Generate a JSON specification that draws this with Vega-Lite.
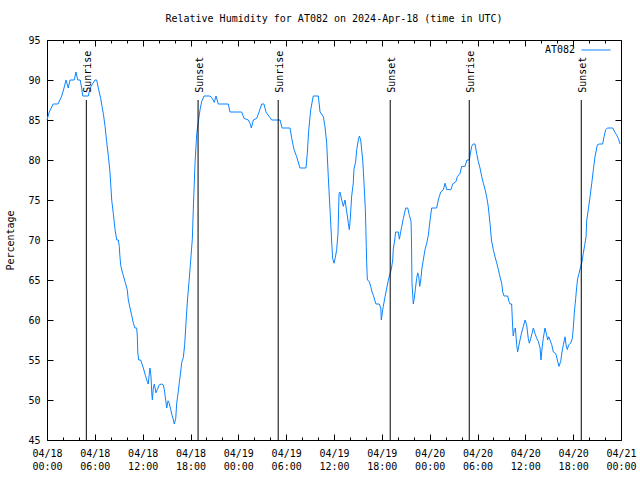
{
  "$schema": "https://vega.github.io/schema/vega-lite/v6.json",
  "autosize": {"type": "none"},
  "width": 574,
  "height": 400,
  "padding": {"left": 47, "top": 40, "right": 19, "bottom": 40},
  "background": "white",
  "title": {"text": "Relative Humidity for AT082 on 2024-Apr-18 (time in UTC)", "font": "DejaVu Sans Mono", "fontSize": 10, "fontWeight": "normal", "color": "black", "offset": 11},
  "config": {
    "view": {"stroke": "black", "strokeWidth": 1},
    "axis": {"domain": false, "grid": false, "labelFont": "DejaVu Sans Mono", "labelFontSize": 10, "labelColor": "black", "tickColor": "black", "titleFont": "DejaVu Sans Mono", "titleFontSize": 10, "titleFontWeight": "normal", "titleColor": "black"},
    "legend": {"labelFont": "DejaVu Sans Mono", "labelFontSize": 10, "labelColor": "black"}
  },
  "datasets": {
    "rh": [
      {"t":"2024-04-18T00:00Z","rh":85},{"t":"2024-04-18T00:17Z","rh":86},{"t":"2024-04-18T00:47Z","rh":87},{"t":"2024-04-18T01:23Z","rh":87},{"t":"2024-04-18T01:51Z","rh":88},{"t":"2024-04-18T02:08Z","rh":89},{"t":"2024-04-18T02:23Z","rh":90},{"t":"2024-04-18T02:40Z","rh":89},{"t":"2024-04-18T02:53Z","rh":90},{"t":"2024-04-18T03:25Z","rh":90},{"t":"2024-04-18T03:38Z","rh":91},{"t":"2024-04-18T03:51Z","rh":90},{"t":"2024-04-18T04:10Z","rh":90},{"t":"2024-04-18T04:21Z","rh":89},{"t":"2024-04-18T04:29Z","rh":88},{"t":"2024-04-18T05:11Z","rh":88},{"t":"2024-04-18T05:24Z","rh":89},{"t":"2024-04-18T06:01Z","rh":90},{"t":"2024-04-18T06:14Z","rh":90},{"t":"2024-04-18T06:26Z","rh":89},{"t":"2024-04-18T06:44Z","rh":87.7},{"t":"2024-04-18T06:54Z","rh":86.7},{"t":"2024-04-18T07:04Z","rh":85.8},{"t":"2024-04-18T07:17Z","rh":84.2},{"t":"2024-04-18T07:29Z","rh":82.3},{"t":"2024-04-18T07:41Z","rh":80.6},{"t":"2024-04-18T07:54Z","rh":78.5},{"t":"2024-04-18T08:07Z","rh":75},{"t":"2024-04-18T08:19Z","rh":73.3},{"t":"2024-04-18T08:32Z","rh":71.3},{"t":"2024-04-18T08:45Z","rh":70},{"t":"2024-04-18T08:57Z","rh":70},{"t":"2024-04-18T09:04Z","rh":69.2},{"t":"2024-04-18T09:09Z","rh":67.9},{"t":"2024-04-18T09:15Z","rh":66.8},{"t":"2024-04-18T09:30Z","rh":65.8},{"t":"2024-04-18T09:47Z","rh":64.8},{"t":"2024-04-18T10:04Z","rh":63.8},{"t":"2024-04-18T10:12Z","rh":62.5},{"t":"2024-04-18T10:25Z","rh":61.5},{"t":"2024-04-18T10:37Z","rh":60.6},{"t":"2024-04-18T10:50Z","rh":59.6},{"t":"2024-04-18T11:02Z","rh":59},{"t":"2024-04-18T11:15Z","rh":59},{"t":"2024-04-18T11:20Z","rh":57.9},{"t":"2024-04-18T11:23Z","rh":56},{"t":"2024-04-18T11:30Z","rh":55},{"t":"2024-04-18T11:45Z","rh":55},{"t":"2024-04-18T12:05Z","rh":54},{"t":"2024-04-18T12:20Z","rh":53.1},{"t":"2024-04-18T12:35Z","rh":52.3},{"t":"2024-04-18T12:42Z","rh":52},{"t":"2024-04-18T12:50Z","rh":53.3},{"t":"2024-04-18T12:55Z","rh":54},{"t":"2024-04-18T13:03Z","rh":52.9},{"t":"2024-04-18T13:08Z","rh":51},{"t":"2024-04-18T13:13Z","rh":50},{"t":"2024-04-18T13:20Z","rh":51.5},{"t":"2024-04-18T13:28Z","rh":52},{"t":"2024-04-18T13:40Z","rh":50.9},{"t":"2024-04-18T13:50Z","rh":51.3},{"t":"2024-04-18T14:05Z","rh":51.9},{"t":"2024-04-18T14:23Z","rh":52},{"t":"2024-04-18T14:35Z","rh":51.9},{"t":"2024-04-18T14:43Z","rh":51.3},{"t":"2024-04-18T14:50Z","rh":50.4},{"t":"2024-04-18T15:01Z","rh":49},{"t":"2024-04-18T15:11Z","rh":49.9},{"t":"2024-04-18T15:20Z","rh":49.6},{"t":"2024-04-18T15:31Z","rh":48.8},{"t":"2024-04-18T15:41Z","rh":48.1},{"t":"2024-04-18T15:51Z","rh":47.5},{"t":"2024-04-18T15:58Z","rh":47},{"t":"2024-04-18T16:09Z","rh":47.7},{"t":"2024-04-18T16:16Z","rh":49.6},{"t":"2024-04-18T16:26Z","rh":50.8},{"t":"2024-04-18T16:36Z","rh":52.2},{"t":"2024-04-18T16:46Z","rh":53.5},{"t":"2024-04-18T16:54Z","rh":54.7},{"t":"2024-04-18T17:06Z","rh":55.3},{"t":"2024-04-18T17:16Z","rh":56.9},{"t":"2024-04-18T17:24Z","rh":59},{"t":"2024-04-18T17:31Z","rh":61},{"t":"2024-04-18T17:39Z","rh":62.9},{"t":"2024-04-18T17:49Z","rh":64.8},{"t":"2024-04-18T17:56Z","rh":66.3},{"t":"2024-04-18T18:04Z","rh":68},{"t":"2024-04-18T18:14Z","rh":70.2},{"t":"2024-04-18T18:21Z","rh":73.8},{"t":"2024-04-18T18:34Z","rh":79.6},{"t":"2024-04-18T18:47Z","rh":83.3},{"t":"2024-04-18T18:59Z","rh":84.8},{"t":"2024-04-18T19:12Z","rh":86.3},{"t":"2024-04-18T19:24Z","rh":87.3},{"t":"2024-04-18T19:42Z","rh":88},{"t":"2024-04-18T20:27Z","rh":88},{"t":"2024-04-18T20:44Z","rh":87.7},{"t":"2024-04-18T20:59Z","rh":87.2},{"t":"2024-04-18T21:12Z","rh":88},{"t":"2024-04-18T21:29Z","rh":87},{"t":"2024-04-18T22:45Z","rh":87},{"t":"2024-04-18T22:57Z","rh":86},
      {"t":"2024-04-19T00:25Z","rh":86},{"t":"2024-04-19T00:43Z","rh":85.2},{"t":"2024-04-19T01:15Z","rh":85},{"t":"2024-04-19T01:28Z","rh":84.6},{"t":"2024-04-19T01:38Z","rh":84},{"t":"2024-04-19T01:53Z","rh":85},{"t":"2024-04-19T02:18Z","rh":85.2},{"t":"2024-04-19T02:36Z","rh":86},{"t":"2024-04-19T02:56Z","rh":87},{"t":"2024-04-19T03:13Z","rh":87},{"t":"2024-04-19T03:28Z","rh":86},{"t":"2024-04-19T03:58Z","rh":85.3},{"t":"2024-04-19T04:11Z","rh":85},{"t":"2024-04-19T05:14Z","rh":85},{"t":"2024-04-19T05:29Z","rh":84},{"t":"2024-04-19T06:29Z","rh":84},{"t":"2024-04-19T06:42Z","rh":82.7},{"t":"2024-04-19T06:59Z","rh":81.3},{"t":"2024-04-19T07:19Z","rh":80.4},{"t":"2024-04-19T07:44Z","rh":79},{"t":"2024-04-19T08:29Z","rh":79},{"t":"2024-04-19T08:39Z","rh":80.8},{"t":"2024-04-19T08:50Z","rh":83.8},{"t":"2024-04-19T09:05Z","rh":86.3},{"t":"2024-04-19T09:24Z","rh":88},{"t":"2024-04-19T10:02Z","rh":88},{"t":"2024-04-19T10:15Z","rh":86},{"t":"2024-04-19T10:40Z","rh":85.4},{"t":"2024-04-19T10:52Z","rh":84.2},{"t":"2024-04-19T11:05Z","rh":82.1},{"t":"2024-04-19T11:17Z","rh":77.9},{"t":"2024-04-19T11:30Z","rh":73.8},{"t":"2024-04-19T11:43Z","rh":69.6},{"t":"2024-04-19T11:50Z","rh":67.7},{"t":"2024-04-19T12:00Z","rh":67.1},{"t":"2024-04-19T12:10Z","rh":67.8},{"t":"2024-04-19T12:20Z","rh":68.8},{"t":"2024-04-19T12:30Z","rh":70.8},{"t":"2024-04-19T12:38Z","rh":75.8},{"t":"2024-04-19T12:45Z","rh":76},{"t":"2024-04-19T12:58Z","rh":75},{"t":"2024-04-19T13:10Z","rh":74.2},{"t":"2024-04-19T13:23Z","rh":75},{"t":"2024-04-19T13:36Z","rh":73.5},{"t":"2024-04-19T13:48Z","rh":72.1},{"t":"2024-04-19T13:55Z","rh":71.3},{"t":"2024-04-19T14:00Z","rh":72.1},{"t":"2024-04-19T14:13Z","rh":75.5},{"t":"2024-04-19T14:25Z","rh":77.1},{"t":"2024-04-19T14:30Z","rh":78.8},{"t":"2024-04-19T14:43Z","rh":79.8},{"t":"2024-04-19T14:51Z","rh":81.3},{"t":"2024-04-19T15:03Z","rh":82.5},{"t":"2024-04-19T15:11Z","rh":83},{"t":"2024-04-19T15:21Z","rh":82.5},{"t":"2024-04-19T15:36Z","rh":80},{"t":"2024-04-19T15:46Z","rh":77.1},{"t":"2024-04-19T15:56Z","rh":73.8},{"t":"2024-04-19T16:00Z","rh":71.3},{"t":"2024-04-19T16:03Z","rh":69.2},{"t":"2024-04-19T16:06Z","rh":67.1},{"t":"2024-04-19T16:11Z","rh":65},{"t":"2024-04-19T16:26Z","rh":64.8},{"t":"2024-04-19T16:36Z","rh":64.2},{"t":"2024-04-19T16:46Z","rh":63.5},{"t":"2024-04-19T16:56Z","rh":63.1},{"t":"2024-04-19T17:06Z","rh":62.5},{"t":"2024-04-19T17:16Z","rh":62},{"t":"2024-04-19T17:41Z","rh":62},{"t":"2024-04-19T17:52Z","rh":61.5},{"t":"2024-04-19T17:56Z","rh":60},{"t":"2024-04-19T18:04Z","rh":61},{"t":"2024-04-19T18:11Z","rh":61.7},{"t":"2024-04-19T18:24Z","rh":62.9},{"t":"2024-04-19T18:37Z","rh":64},{"t":"2024-04-19T18:49Z","rh":65},{"t":"2024-04-19T19:02Z","rh":65.8},{"t":"2024-04-19T19:11Z","rh":66.3},{"t":"2024-04-19T19:22Z","rh":67.5},{"t":"2024-04-19T19:26Z","rh":68.8},{"t":"2024-04-19T19:37Z","rh":70},{"t":"2024-04-19T19:44Z","rh":71},{"t":"2024-04-19T19:52Z","rh":71},{"t":"2024-04-19T20:04Z","rh":71},{"t":"2024-04-19T20:12Z","rh":70.1},{"t":"2024-04-19T20:22Z","rh":71},{"t":"2024-04-19T20:30Z","rh":71.7},{"t":"2024-04-19T20:42Z","rh":72.7},{"t":"2024-04-19T21:00Z","rh":74},{"t":"2024-04-19T21:15Z","rh":74},{"t":"2024-04-19T21:27Z","rh":73.1},{"t":"2024-04-19T21:40Z","rh":72.3},{"t":"2024-04-19T21:43Z","rh":70},{"t":"2024-04-19T21:47Z","rh":64.6},{"t":"2024-04-19T21:57Z","rh":62},{"t":"2024-04-19T22:04Z","rh":62.7},{"t":"2024-04-19T22:12Z","rh":63.8},{"t":"2024-04-19T22:22Z","rh":65.2},{"t":"2024-04-19T22:30Z","rh":65.9},{"t":"2024-04-19T22:38Z","rh":65.4},{"t":"2024-04-19T22:45Z","rh":64.2},{"t":"2024-04-19T22:53Z","rh":65},{"t":"2024-04-19T23:02Z","rh":66.5},{"t":"2024-04-19T23:12Z","rh":67.5},{"t":"2024-04-19T23:25Z","rh":68.8},{"t":"2024-04-19T23:38Z","rh":69.6},{"t":"2024-04-19T23:50Z","rh":70.6},
      {"t":"2024-04-20T00:03Z","rh":72.5},{"t":"2024-04-20T00:15Z","rh":74},{"t":"2024-04-20T00:53Z","rh":74},{"t":"2024-04-20T01:05Z","rh":75},{"t":"2024-04-20T01:23Z","rh":76},{"t":"2024-04-20T01:43Z","rh":76.3},{"t":"2024-04-20T01:56Z","rh":77.1},{"t":"2024-04-20T02:08Z","rh":76.3},{"t":"2024-04-20T02:41Z","rh":76.3},{"t":"2024-04-20T02:53Z","rh":77},{"t":"2024-04-20T03:18Z","rh":77.3},{"t":"2024-04-20T03:28Z","rh":77.9},{"t":"2024-04-20T03:48Z","rh":78.3},{"t":"2024-04-20T04:01Z","rh":79.2},{"t":"2024-04-20T04:26Z","rh":79.2},{"t":"2024-04-20T04:41Z","rh":80},{"t":"2024-04-20T04:58Z","rh":80},{"t":"2024-04-20T05:16Z","rh":81.7},{"t":"2024-04-20T05:28Z","rh":82},{"t":"2024-04-20T05:41Z","rh":82},{"t":"2024-04-20T05:54Z","rh":80.8},{"t":"2024-04-20T06:06Z","rh":79.8},{"t":"2024-04-20T06:19Z","rh":79},{"t":"2024-04-20T06:32Z","rh":77.9},{"t":"2024-04-20T06:44Z","rh":77.1},{"t":"2024-04-20T06:57Z","rh":76.3},{"t":"2024-04-20T07:09Z","rh":75.4},{"t":"2024-04-20T07:21Z","rh":74.2},{"t":"2024-04-20T07:34Z","rh":72.1},{"t":"2024-04-20T07:45Z","rh":70},{"t":"2024-04-20T07:59Z","rh":68.8},{"t":"2024-04-20T08:12Z","rh":67.9},{"t":"2024-04-20T08:25Z","rh":67.1},{"t":"2024-04-20T08:37Z","rh":66.3},{"t":"2024-04-20T08:49Z","rh":65.4},{"t":"2024-04-20T09:02Z","rh":64.6},{"t":"2024-04-20T09:10Z","rh":63.5},{"t":"2024-04-20T09:20Z","rh":63},{"t":"2024-04-20T09:47Z","rh":63},{"t":"2024-04-20T09:57Z","rh":62.3},{"t":"2024-04-20T10:05Z","rh":62},{"t":"2024-04-20T10:17Z","rh":62},{"t":"2024-04-20T10:25Z","rh":59},{"t":"2024-04-20T10:29Z","rh":58},{"t":"2024-04-20T10:37Z","rh":58.8},{"t":"2024-04-20T10:45Z","rh":59},{"t":"2024-04-20T10:55Z","rh":56.9},{"t":"2024-04-20T11:02Z","rh":56},{"t":"2024-04-20T11:10Z","rh":56.7},{"t":"2024-04-20T11:20Z","rh":57.5},{"t":"2024-04-20T11:33Z","rh":58.5},{"t":"2024-04-20T11:45Z","rh":59.2},{"t":"2024-04-20T11:58Z","rh":60},{"t":"2024-04-20T12:10Z","rh":59.4},{"t":"2024-04-20T12:22Z","rh":57.7},{"t":"2024-04-20T12:30Z","rh":57.1},{"t":"2024-04-20T12:41Z","rh":57.7},{"t":"2024-04-20T12:50Z","rh":58.3},{"t":"2024-04-20T13:00Z","rh":59},{"t":"2024-04-20T13:13Z","rh":58.3},{"t":"2024-04-20T13:26Z","rh":57.7},{"t":"2024-04-20T13:38Z","rh":57.3},{"t":"2024-04-20T13:51Z","rh":56.5},{"t":"2024-04-20T13:58Z","rh":55},{"t":"2024-04-20T14:06Z","rh":56.5},{"t":"2024-04-20T14:15Z","rh":57.7},{"t":"2024-04-20T14:28Z","rh":59},{"t":"2024-04-20T14:41Z","rh":58.1},{"t":"2024-04-20T14:48Z","rh":57.5},{"t":"2024-04-20T14:56Z","rh":57.9},{"t":"2024-04-20T15:06Z","rh":57.5},{"t":"2024-04-20T15:19Z","rh":56.9},{"t":"2024-04-20T15:31Z","rh":56},{"t":"2024-04-20T15:49Z","rh":55.8},{"t":"2024-04-20T16:01Z","rh":55},{"t":"2024-04-20T16:13Z","rh":54.2},{"t":"2024-04-20T16:26Z","rh":54.8},{"t":"2024-04-20T16:36Z","rh":56},{"t":"2024-04-20T16:46Z","rh":56.9},{"t":"2024-04-20T16:59Z","rh":57.9},{"t":"2024-04-20T17:06Z","rh":56.9},{"t":"2024-04-20T17:16Z","rh":56.3},{"t":"2024-04-20T17:26Z","rh":56.9},{"t":"2024-04-20T17:41Z","rh":57.1},{"t":"2024-04-20T17:54Z","rh":57.7},{"t":"2024-04-20T18:01Z","rh":59},{"t":"2024-04-20T18:09Z","rh":61},{"t":"2024-04-20T18:19Z","rh":62.7},{"t":"2024-04-20T18:27Z","rh":64.2},{"t":"2024-04-20T18:34Z","rh":65.2},{"t":"2024-04-20T18:44Z","rh":65.8},{"t":"2024-04-20T18:57Z","rh":66.7},{"t":"2024-04-20T19:07Z","rh":67.3},{"t":"2024-04-20T19:16Z","rh":68.3},{"t":"2024-04-20T19:27Z","rh":69.4},{"t":"2024-04-20T19:37Z","rh":70.4},{"t":"2024-04-20T19:42Z","rh":72.5},{"t":"2024-04-20T19:54Z","rh":73.8},{"t":"2024-04-20T20:07Z","rh":75.4},{"t":"2024-04-20T20:20Z","rh":77.1},{"t":"2024-04-20T20:32Z","rh":78.8},{"t":"2024-04-20T20:44Z","rh":80.4},{"t":"2024-04-20T21:02Z","rh":81.9},{"t":"2024-04-20T21:17Z","rh":82},{"t":"2024-04-20T21:42Z","rh":82},{"t":"2024-04-20T21:52Z","rh":82.9},{"t":"2024-04-20T22:05Z","rh":83.8},{"t":"2024-04-20T22:17Z","rh":84},{"t":"2024-04-20T22:58Z","rh":84},{"t":"2024-04-20T23:13Z","rh":83.5},{"t":"2024-04-20T23:28Z","rh":83.1},{"t":"2024-04-20T23:40Z","rh":82.7},{"t":"2024-04-20T23:53Z","rh":82}
    ],
    "sun": [
      {"t":"2024-04-18T04:56Z","event":"Sunrise"},
      {"t":"2024-04-18T18:57Z","event":"Sunset"},
      {"t":"2024-04-19T05:00Z","event":"Sunrise"},
      {"t":"2024-04-19T19:03Z","event":"Sunset"},
      {"t":"2024-04-20T04:58Z","event":"Sunrise"},
      {"t":"2024-04-20T19:01Z","event":"Sunset"}
    ]
  },
  "layer": [
    {
      "data": {"name": "rh"},
      "mark": {"type": "line", "strokeWidth": 1, "interpolate": "linear"},
      "encoding": {
        "x": {"field": "t", "type": "temporal",
          "scale": {"type": "utc", "domain": [{"year":2024,"month":4,"date":18,"hours":0,"utc":true},{"year":2024,"month":4,"date":21,"hours":0,"utc":true}]},
          "axis": {"orient": "bottom", "title": null,
            "values": [
              {"year":2024,"month":4,"date":18,"hours":0,"utc":true},{"year":2024,"month":4,"date":18,"hours":2,"utc":true},{"year":2024,"month":4,"date":18,"hours":4,"utc":true},{"year":2024,"month":4,"date":18,"hours":6,"utc":true},{"year":2024,"month":4,"date":18,"hours":8,"utc":true},{"year":2024,"month":4,"date":18,"hours":10,"utc":true},{"year":2024,"month":4,"date":18,"hours":12,"utc":true},{"year":2024,"month":4,"date":18,"hours":14,"utc":true},{"year":2024,"month":4,"date":18,"hours":16,"utc":true},{"year":2024,"month":4,"date":18,"hours":18,"utc":true},{"year":2024,"month":4,"date":18,"hours":20,"utc":true},{"year":2024,"month":4,"date":18,"hours":22,"utc":true},
              {"year":2024,"month":4,"date":19,"hours":0,"utc":true},{"year":2024,"month":4,"date":19,"hours":2,"utc":true},{"year":2024,"month":4,"date":19,"hours":4,"utc":true},{"year":2024,"month":4,"date":19,"hours":6,"utc":true},{"year":2024,"month":4,"date":19,"hours":8,"utc":true},{"year":2024,"month":4,"date":19,"hours":10,"utc":true},{"year":2024,"month":4,"date":19,"hours":12,"utc":true},{"year":2024,"month":4,"date":19,"hours":14,"utc":true},{"year":2024,"month":4,"date":19,"hours":16,"utc":true},{"year":2024,"month":4,"date":19,"hours":18,"utc":true},{"year":2024,"month":4,"date":19,"hours":20,"utc":true},{"year":2024,"month":4,"date":19,"hours":22,"utc":true},
              {"year":2024,"month":4,"date":20,"hours":0,"utc":true},{"year":2024,"month":4,"date":20,"hours":2,"utc":true},{"year":2024,"month":4,"date":20,"hours":4,"utc":true},{"year":2024,"month":4,"date":20,"hours":6,"utc":true},{"year":2024,"month":4,"date":20,"hours":8,"utc":true},{"year":2024,"month":4,"date":20,"hours":10,"utc":true},{"year":2024,"month":4,"date":20,"hours":12,"utc":true},{"year":2024,"month":4,"date":20,"hours":14,"utc":true},{"year":2024,"month":4,"date":20,"hours":16,"utc":true},{"year":2024,"month":4,"date":20,"hours":18,"utc":true},{"year":2024,"month":4,"date":20,"hours":20,"utc":true},{"year":2024,"month":4,"date":20,"hours":22,"utc":true},
              {"year":2024,"month":4,"date":21,"hours":0,"utc":true}
            ],
            "labelExpr": "utchours(datum.value) % 6 === 0 ? [utcFormat(datum.value, '%m/%d'), utcFormat(datum.value, '%H:%M')] : ''",
            "labelLineHeight": 13,
            "labelPadding": 14,
            "labelFlush": false,
            "labelOverlap": false,
            "tickSize": {"condition": {"test": "utchours(datum.value) % 6 === 0", "value": -6}, "value": -3}
          }
        },
        "y": {"field": "rh", "type": "quantitative",
          "scale": {"domain": [45, 95], "nice": false, "zero": false},
          "axis": {"orient": "left", "title": "Percentage", "values": [45,50,55,60,65,70,75,80,85,90,95], "tickSize": -6, "labelPadding": 13, "titlePadding": 12}
        },
        "color": {"datum": "AT082", "type": "nominal",
          "scale": {"range": ["#0a84ff"]},
          "legend": {"title": null, "orient": "none", "legendX": 534, "legendY": -5, "symbolType": "stroke", "symbolSize": 841, "symbolStrokeWidth": 1, "labelAlign": "right", "labelOffset": -36, "padding": 0}
        }
      }
    },
    {
      "data": {"name": "sun"},
      "mark": {"type": "rule", "color": "black", "strokeWidth": 1},
      "encoding": {
        "x": {"field": "t", "type": "temporal",
          "axis": {"orient": "top", "title": null, "labels": false,
            "values": [
              {"year":2024,"month":4,"date":18,"hours":0,"utc":true},{"year":2024,"month":4,"date":18,"hours":2,"utc":true},{"year":2024,"month":4,"date":18,"hours":4,"utc":true},{"year":2024,"month":4,"date":18,"hours":6,"utc":true},{"year":2024,"month":4,"date":18,"hours":8,"utc":true},{"year":2024,"month":4,"date":18,"hours":10,"utc":true},{"year":2024,"month":4,"date":18,"hours":12,"utc":true},{"year":2024,"month":4,"date":18,"hours":14,"utc":true},{"year":2024,"month":4,"date":18,"hours":16,"utc":true},{"year":2024,"month":4,"date":18,"hours":18,"utc":true},{"year":2024,"month":4,"date":18,"hours":20,"utc":true},{"year":2024,"month":4,"date":18,"hours":22,"utc":true},
              {"year":2024,"month":4,"date":19,"hours":0,"utc":true},{"year":2024,"month":4,"date":19,"hours":2,"utc":true},{"year":2024,"month":4,"date":19,"hours":4,"utc":true},{"year":2024,"month":4,"date":19,"hours":6,"utc":true},{"year":2024,"month":4,"date":19,"hours":8,"utc":true},{"year":2024,"month":4,"date":19,"hours":10,"utc":true},{"year":2024,"month":4,"date":19,"hours":12,"utc":true},{"year":2024,"month":4,"date":19,"hours":14,"utc":true},{"year":2024,"month":4,"date":19,"hours":16,"utc":true},{"year":2024,"month":4,"date":19,"hours":18,"utc":true},{"year":2024,"month":4,"date":19,"hours":20,"utc":true},{"year":2024,"month":4,"date":19,"hours":22,"utc":true},
              {"year":2024,"month":4,"date":20,"hours":0,"utc":true},{"year":2024,"month":4,"date":20,"hours":2,"utc":true},{"year":2024,"month":4,"date":20,"hours":4,"utc":true},{"year":2024,"month":4,"date":20,"hours":6,"utc":true},{"year":2024,"month":4,"date":20,"hours":8,"utc":true},{"year":2024,"month":4,"date":20,"hours":10,"utc":true},{"year":2024,"month":4,"date":20,"hours":12,"utc":true},{"year":2024,"month":4,"date":20,"hours":14,"utc":true},{"year":2024,"month":4,"date":20,"hours":16,"utc":true},{"year":2024,"month":4,"date":20,"hours":18,"utc":true},{"year":2024,"month":4,"date":20,"hours":20,"utc":true},{"year":2024,"month":4,"date":20,"hours":22,"utc":true},
              {"year":2024,"month":4,"date":21,"hours":0,"utc":true}
            ],
            "tickSize": {"condition": {"test": "utchours(datum.value) % 6 === 0", "value": -6}, "value": -3}
          }
        },
        "y": {"datum": 45, "type": "quantitative",
          "axis": {"orient": "right", "title": null, "labels": false, "values": [45,50,55,60,65,70,75,80,85,90,95], "tickSize": -6}
        },
        "y2": {"datum": 87.5}
      }
    },
    {
      "data": {"name": "sun"},
      "mark": {"type": "text", "angle": 270, "align": "left", "baseline": "middle", "dy": 2, "font": "DejaVu Sans Mono", "fontSize": 10, "color": "black"},
      "encoding": {
        "x": {"field": "t", "type": "temporal", "axis": null},
        "y": {"datum": 88.4, "type": "quantitative", "axis": null},
        "text": {"field": "event"}
      }
    }
  ],
  "resolve": {"axis": {"x": "independent", "y": "independent"}}
}
